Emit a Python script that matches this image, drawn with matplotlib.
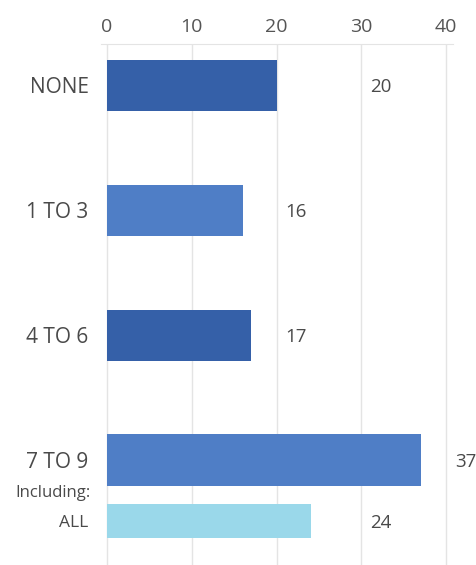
import matplotlib.pyplot as plt

# Daten
kategorien = ['NONE', '1 TO 3', '4 TO 6', '7 TO 9', 'ALL']
werte = [20, 16, 17, 37, 24]
farben = ['#3560a8', '#4f7ec6', '#3560a8', '#4f7ec6', '#9ad8ea']
positionen = [0, 1, 2, 3, 3.49]
hoehen = [0.41, 0.41, 0.41, 0.41, 0.27]
x_ticks = [0, 10, 20, 30, 40]

plt.rcParams['font.family'] = ['Open Sans', 'DejaVu Sans']

fig = plt.figure(figsize=(4.76, 5.65), dpi=100)
ax = fig.add_axes([0.2122, 0.0, 0.7395, 0.9221])

ax.barh(positionen, werte, height=hoehen, color=farben, zorder=3)

ax.set_xlim(-0.7, 40.8)
ax.set_ylim(3.84, -0.33)

# x-Achse oben
ax.xaxis.tick_top()
ax.set_xticks(x_ticks)
ax.tick_params(axis='x', length=0, pad=6, labelsize=14, labelcolor='#555555')
ax.grid(axis='x', color='#e4e4e4', linewidth=1, zorder=0)

ax.set_yticks(positionen)
ax.set_yticklabels(kategorien)
ax.tick_params(axis='y', length=0, pad=9, labelsize=15, labelcolor='#4a4a4a')
ax.get_yticklabels()[-1].set_fontsize(12.5)
for lbl in ax.get_yticklabels():
    lbl.set_verticalalignment('center_baseline')

for s in ['left', 'right', 'bottom']:
    ax.spines[s].set_visible(False)
ax.spines['top'].set_color('#e4e4e4')

ax.text(-1.9, 3.25, 'Including:', ha='right', va='center_baseline', fontsize=12,
        color='#4a4a4a', clip_on=False)

# Werte neben den Balken
for pos, w in zip(positionen, werte):
    ax.text((w // 10 + 1) * 10 + 1, pos, str(w), ha='left', va='center_baseline',
            fontsize=13.5, color='#4a4a4a', clip_on=False)

plt.savefig('out.png', dpi=100)
